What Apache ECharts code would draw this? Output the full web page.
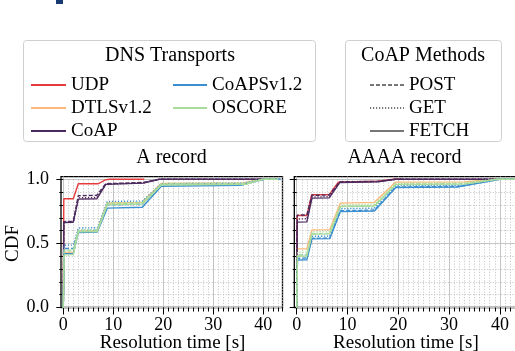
<!DOCTYPE html>
<html>
<head>
<meta charset="utf-8">
<script src="https://cdn.jsdelivr.net/npm/echarts@6/dist/echarts.min.js"></script>
<style>
  html, body { margin: 0; padding: 0; background: #fff; }
  #chart { width: 515px; height: 351px; }
</style>
</head>
<body>
<div id="chart"></div>
<script>
// legend names / colours
const transports = ['UDP', 'DTLSv1.2', 'CoAP', 'CoAPSv1.2', 'OSCORE']
const transportColors = ['#e63b3d', '#fdb97a', '#4d2a5e', '#3b8fd0', '#a9dc9b']
const methods = ['POST', 'GET', 'FETCH']
const methodDash = { POST: [4, 2], GET: [1.2, 1.8], FETCH: 'solid' }

// A record, [resolution time s, CDF]
const aUDP = [[0, 0], [0.1, 0.848], [2.0, 0.848], [3.0, 0.965], [7.0, 0.965], [8.4, 0.995], [9.2, 1.0], [16.2, 1.0]]
const aDTLS = [[0, 0], [0.15, 0.43], [2.0, 0.432], [3.0, 0.598], [6.8, 0.6], [8.8, 0.815], [15.8, 0.82], [19.6, 0.968], [36, 0.972], [39.5, 1.0], [43.2, 1.0]]
const aCoapFetch = [[0, 0], [0.1, 0.662], [2.0, 0.665], [3.0, 0.845], [6.7, 0.848], [8.5, 0.96], [16, 0.97], [19.2, 1.0], [43, 1.0]]
const aCoapPost = [[0, 0], [0.1, 0.67], [2.0, 0.672], [3.0, 0.872], [6.7, 0.875], [8.5, 0.965], [16, 0.975], [19.2, 1.0], [43, 1.0]]
const aCoapGet = [[0, 0], [0.1, 0.665], [2.0, 0.668], [3.0, 0.855], [6.7, 0.858], [8.5, 0.962], [16, 0.972], [19.2, 1.0], [43, 1.0]]
const aCoapsFetch = [[0, 0], [0.15, 0.42], [2, 0.42], [3, 0.585], [6.8, 0.588], [8.8, 0.775], [15.8, 0.782], [19.6, 0.945], [35.5, 0.952], [40, 1.0], [43.5, 1.0]]
const aCoapsPost = [[0, 0], [0.15, 0.46], [2, 0.46], [3, 0.6], [6.8, 0.603], [8.8, 0.8], [15.8, 0.805], [19.6, 0.958], [36, 0.962], [40.5, 1.0], [43.3, 1.0]]
const aCoapsGet = [[0, 0], [0.15, 0.485], [2, 0.487], [3, 0.62], [6.8, 0.622], [8.8, 0.827], [15.8, 0.83], [19.6, 0.965], [36, 0.97], [40, 1.0], [43, 1.0]]
const aOscoreFetch = [[0, 0], [0.15, 0.41], [2, 0.412], [3, 0.59], [6.8, 0.592], [8.8, 0.8], [15.8, 0.806], [19.6, 0.955], [36.5, 0.96], [40, 1.0], [43, 1.0]]
const aOscorePost = [[0, 0], [0.15, 0.44], [2, 0.442], [3, 0.598], [6.8, 0.6], [8.8, 0.81], [15.8, 0.815], [19.6, 0.962], [36.5, 0.966], [40, 1.0], [43, 1.0]]
const aOscoreGet = [[0, 0], [0.15, 0.45], [2, 0.452], [3, 0.605], [6.8, 0.607], [8.8, 0.815], [15.8, 0.82], [19.6, 0.968], [36.5, 0.972], [39.5, 1.0], [43, 1.0]]

// AAAA record
const qUDP = [[0, 0], [0.1, 0.717], [2, 0.717], [2.95, 0.879], [6.4, 0.88], [8.2, 0.978], [16, 0.985], [19, 1.0], [21, 1.0]]
const qDTLS = [[0, 0], [0.15, 0.457], [2, 0.458], [3, 0.605], [6.5, 0.607], [8.6, 0.814], [15.3, 0.82], [19.5, 0.978], [33, 0.98], [39, 1.0], [43, 1.0]]
const qCoapFetch = [[0, 0], [0.1, 0.666], [2, 0.668], [3, 0.853], [6.4, 0.855], [8.5, 0.975], [16, 0.98], [19.5, 1.0], [43, 1.0]]
const qCoapPost = [[0, 0], [0.1, 0.72], [2, 0.722], [3, 0.875], [6.4, 0.877], [8.5, 0.98], [16, 0.984], [19.5, 1.0], [43, 1.0]]
const qCoapGet = [[0, 0], [0.1, 0.69], [2, 0.692], [3, 0.862], [6.4, 0.864], [8.5, 0.977], [16, 0.982], [19.5, 1.0], [43, 1.0]]
const qCoapsFetch = [[0, 0], [0.15, 0.37], [2, 0.372], [3, 0.535], [6.5, 0.537], [8.6, 0.748], [15.3, 0.752], [19.5, 0.936], [31.5, 0.94], [40, 1.0], [43, 1.0]]
const qCoapsPost = [[0, 0], [0.15, 0.384], [2, 0.386], [3, 0.54], [6.5, 0.542], [8.6, 0.755], [15.3, 0.76], [19.5, 0.94], [32, 0.944], [40, 1.0], [43, 1.0]]
const qCoapsGet = [[0, 0], [0.15, 0.41], [2, 0.412], [3, 0.555], [6.5, 0.557], [8.6, 0.77], [15.3, 0.775], [19.5, 0.95], [32.5, 0.954], [39.5, 1.0], [43, 1.0]]
const qOscoreFetch = [[0, 0], [0.15, 0.4], [2, 0.402], [3, 0.572], [6.5, 0.574], [8.6, 0.787], [15.3, 0.792], [19.5, 0.958], [33, 0.962], [39.5, 1.0], [43, 1.0]]
const qOscorePost = [[0, 0], [0.15, 0.41], [2, 0.412], [3, 0.575], [6.5, 0.577], [8.6, 0.79], [15.3, 0.795], [19.5, 0.962], [33, 0.966], [39.5, 1.0], [43, 1.0]]
const qOscoreGet = [[0, 0], [0.15, 0.43], [2, 0.432], [3, 0.59], [6.5, 0.592], [8.6, 0.8], [15.3, 0.805], [19.5, 0.968], [33, 0.972], [39, 1.0], [43, 1.0]]

// [transport, method, data, panel]  (FETCH first so the legend gets a solid line)
const curves = [
  ['UDP', 'FETCH', aUDP, 0], ['DTLSv1.2', 'FETCH', aDTLS, 0],
  ['CoAP', 'FETCH', aCoapFetch, 0], ['CoAP', 'POST', aCoapPost, 0], ['CoAP', 'GET', aCoapGet, 0],
  ['CoAPSv1.2', 'FETCH', aCoapsFetch, 0], ['CoAPSv1.2', 'POST', aCoapsPost, 0], ['CoAPSv1.2', 'GET', aCoapsGet, 0],
  ['OSCORE', 'FETCH', aOscoreFetch, 0], ['OSCORE', 'POST', aOscorePost, 0], ['OSCORE', 'GET', aOscoreGet, 0],
  ['UDP', 'FETCH', qUDP, 1], ['DTLSv1.2', 'FETCH', qDTLS, 1],
  ['CoAP', 'FETCH', qCoapFetch, 1], ['CoAP', 'POST', qCoapPost, 1], ['CoAP', 'GET', qCoapGet, 1],
  ['CoAPSv1.2', 'FETCH', qCoapsFetch, 1], ['CoAPSv1.2', 'POST', qCoapsPost, 1], ['CoAPSv1.2', 'GET', qCoapsGet, 1],
  ['OSCORE', 'FETCH', qOscoreFetch, 1], ['OSCORE', 'POST', qOscorePost, 1], ['OSCORE', 'GET', qOscoreGet, 1]
]

const FONT = "'Liberation Serif', 'DejaVu Serif', serif"

// panel geometry: x0 = pixel of t=0, pxs = px per second, xmax of data axis
const panels = [
  { x0: 63.3, pxs: 5.0, xmax: 43.7, frameLeft: 61, ylabel: true },
  { x0: 296.7, pxs: 5.08, xmax: 43.0, frameLeft: 294.3, ylabel: false }
]
const TOP = 176.7, BOTTOM = 307.5, Y1 = 179.3

let grid = [], xAxis = [], yAxis = []
panels.forEach((p, i) => {
  const base = i * 4
  const g = { outerBoundsMode: 'none', containLabel: false }
  grid.push(Object.assign({ left: p.x0, top: TOP, width: p.xmax * p.pxs, height: BOTTOM - TOP }, g))   // data
  grid.push(Object.assign({ left: p.x0, top: TOP, width: 40 * p.pxs, height: BOTTOM - TOP }, g))       // major x
  grid.push(Object.assign({ left: p.x0, top: Y1, width: p.xmax * p.pxs, height: BOTTOM - Y1 }, g))     // y axis
  grid.push(Object.assign({ left: p.frameLeft, top: TOP, width: 221.5, height: BOTTOM - TOP, show: true,
              borderColor: '#000', borderWidth: 1.3, backgroundColor: 'transparent' }, g))               // frame

  xAxis.push({
    gridIndex: base, type: 'value', min: 0, max: p.xmax, interval: 1,
    axisLine: { show: false },
    axisTick: { show: true, length: 4, lineStyle: { color: '#000', width: 1 } },
    axisLabel: { show: false },
    splitLine: { show: true, lineStyle: { color: '#bdbdbd', width: 0.8, type: [1.2, 1.6] } },
    name: 'Resolution time [s]', nameLocation: 'middle', nameGap: 26,
    nameTextStyle: { fontFamily: FONT, fontSize: 19, color: '#000' }
  })
  xAxis.push({
    gridIndex: base + 1, type: 'value', min: 0, max: 40, interval: 10,
    axisLine: { show: false },
    axisTick: { show: true, length: 7, lineStyle: { color: '#000', width: 1 } },
    axisLabel: { fontFamily: FONT, fontSize: 18, color: '#000', margin: 9 },
    splitLine: { show: true, lineStyle: { color: '#c4c4c4', width: 1 } }
  })
  xAxis.push({ gridIndex: base + 2, type: 'value', min: 0, max: 1, show: false })
  xAxis.push({ gridIndex: base + 3, type: 'value', min: 0, max: 1, show: false })

  yAxis.push({ gridIndex: base, type: 'value', min: 0, max: 1.02, show: false })
  yAxis.push({ gridIndex: base + 1, type: 'value', min: 0, max: 1, show: false })
  yAxis.push({
    gridIndex: base + 2, type: 'value', min: 0, max: 1, interval: 0.5,
    offset: p.x0 - p.frameLeft,
    axisLine: { show: false },
    axisTick: { show: true, length: 7, lineStyle: { color: '#000', width: 1 } },
    minorTick: { show: true, splitNumber: 5, length: 4, lineStyle: { color: '#000', width: 1 } },
    axisLabel: { show: p.ylabel, fontFamily: FONT, fontSize: 18, color: '#000', margin: 12,
                 formatter: v => v.toFixed(1) },
    splitLine: { show: true, lineStyle: { color: '#c4c4c4', width: 1 } },
    minorSplitLine: { show: true, lineStyle: { color: '#bdbdbd', width: 0.8, type: [1.2, 1.6] } },
    name: p.ylabel ? 'CDF' : '', nameLocation: 'middle', nameGap: 36, nameRotate: 90,
    nameTextStyle: { fontFamily: FONT, fontSize: 19, color: '#000' }
  })
  yAxis.push({ gridIndex: base + 3, type: 'value', min: 0, max: 1, show: false })
})

let series = curves.map(([name, method, data, panel]) => ({
  name: name,
  type: 'line',
  xAxisIndex: panel * 4,
  yAxisIndex: panel * 4,
  data: data,
  symbol: 'none',
  silent: true,
  color: transportColors[transports.indexOf(name)],
  lineStyle: { width: 1.4, type: methodDash[method] },
  z: 3
}))

// method legend entries (no data)
methods.forEach(m => {
  series.push({
    name: m, type: 'line', xAxisIndex: 0, yAxisIndex: 0, data: [], symbol: 'none',
    color: '#777', lineStyle: { width: 1.4, type: methodDash[m] }
  })
})

const legendBase = {
  orient: 'vertical', top: 75.5, itemWidth: 35, itemHeight: 14, itemGap: 4,
  selectedMode: false, padding: 0,
  itemStyle: { opacity: 0 },
  textStyle: { fontFamily: FONT, fontSize: 19, color: '#000' }
}

const chart = echarts.init(document.getElementById('chart'))
chart.setOption({
  animation: false,
  backgroundColor: '#fff',
  grid: grid,
  xAxis: xAxis,
  yAxis: yAxis,
  legend: [
    Object.assign({}, legendBase, { left: 30, data: ['UDP', 'DTLSv1.2', 'CoAP'] }),
    Object.assign({}, legendBase, { left: 172, itemWidth: 34, data: ['CoAPSv1.2', 'OSCORE'] }),
    Object.assign({}, legendBase, { left: 369, itemWidth: 34, data: methods })
  ],
  graphic: [
    { type: 'rect', shape: { x: 56, y: 0, width: 7, height: 4 }, style: { fill: '#173a70' } },
    { type: 'rect', z: -1, shape: { x: 23.5, y: 40.5, width: 292, height: 101, r: 3 },
      style: { fill: '#fff', stroke: '#cfcfcf', lineWidth: 1 } },
    { type: 'rect', z: -1, shape: { x: 345.5, y: 40.5, width: 156, height: 101, r: 3 },
      style: { fill: '#fff', stroke: '#cfcfcf', lineWidth: 1 } },
    { type: 'text', x: 170, y: 56, style: { text: 'DNS Transports', font: '20px ' + FONT,
      fill: '#000', textAlign: 'center', textVerticalAlign: 'middle' } },
    { type: 'text', x: 423, y: 56, style: { text: 'CoAP Methods', font: '20px ' + FONT,
      fill: '#000', textAlign: 'center', textVerticalAlign: 'middle' } },
    { type: 'text', x: 171.5, y: 157.5, style: { text: 'A record', font: '20px ' + FONT,
      fill: '#000', textAlign: 'center', textVerticalAlign: 'middle' } },
    { type: 'text', x: 404.5, y: 157.5, style: { text: 'AAAA record', font: '20px ' + FONT,
      fill: '#000', textAlign: 'center', textVerticalAlign: 'middle' } }
  ],
  series: series
})
</script>
</body>
</html>
